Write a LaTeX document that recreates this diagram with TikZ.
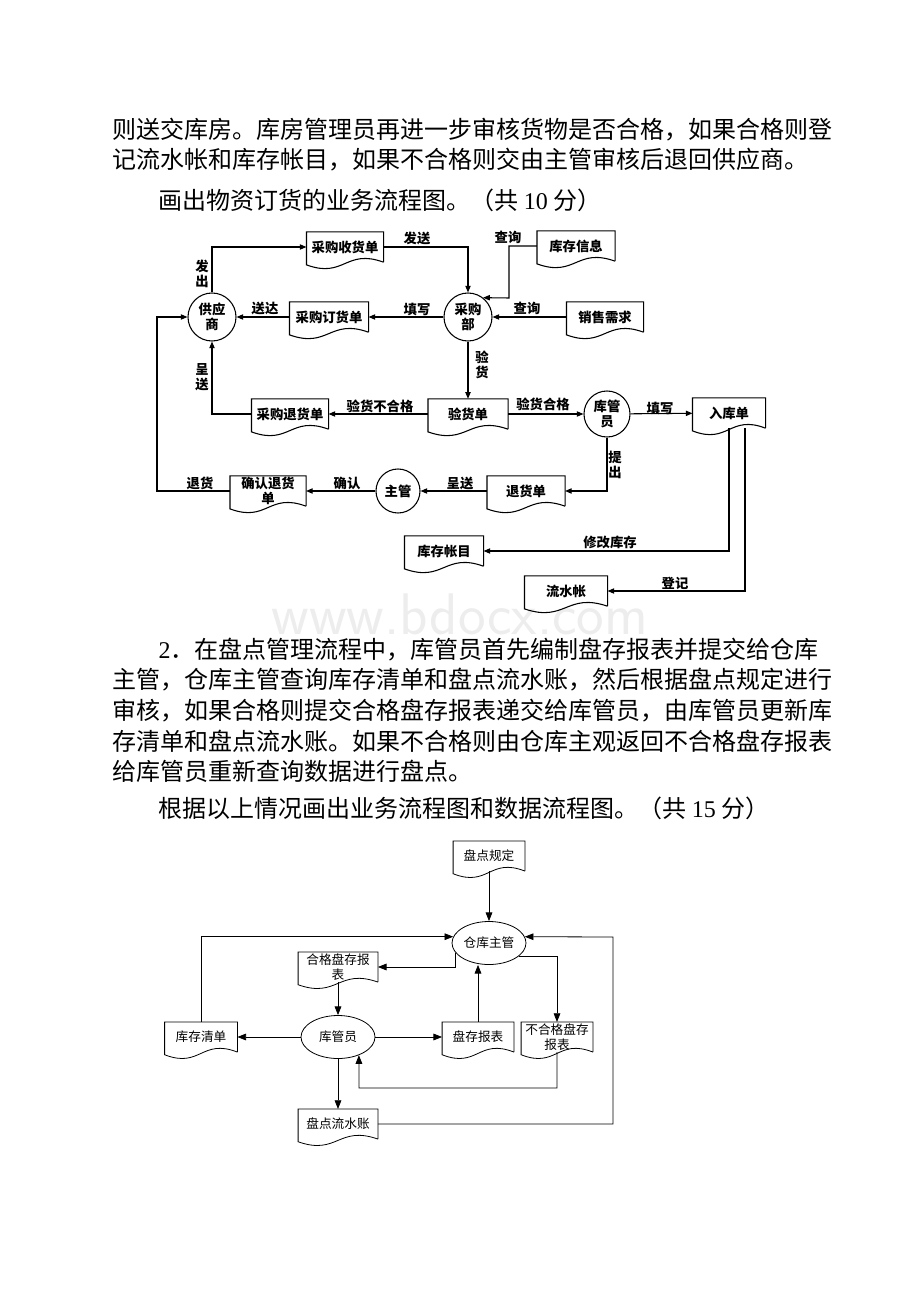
\documentclass[tikz,border=0pt]{standalone}
\usepackage{fontspec}
\setmainfont{Liberation Serif}
\newfontfamily\cjk{Noto Sans CJK SC}
\usetikzlibrary{arrows.meta,shapes.geometric}

\begin{document}
\begin{tikzpicture}[x=0.75pt,y=-0.75pt,line width=0.8pt]
% STYLES
\tikzset{%
    txt/.style={font=\cjk\fontsize{18}{20}\selectfont,anchor=west,inner sep=0pt},
    lab/.style={font=\cjk\bfseries\fontsize{10}{11.5}\selectfont,inner sep=0pt,align=center},
    lab2/.style={font=\cjk\fontsize{9.5}{11}\selectfont,inner sep=0pt,align=center},
    proc/.style={circle,draw,minimum size=#1*0.75pt,inner sep=0pt,align=center,
        font=\cjk\bfseries\fontsize{10}{11.5}\selectfont},
    role/.style={ellipse,draw,minimum width=74*0.75pt,minimum height=43*0.75pt,inner sep=0pt,
        font=\cjk\fontsize{9.5}{11}\selectfont},
    docu/.style={minimum width=#1*0.75pt,minimum height=22pt,
        append after command={\pgfextra{\draw (\tikzlastnode.south east) -- (\tikzlastnode.north east)
        -- (\tikzlastnode.north west) -- ([yshift=-2pt]\tikzlastnode.south west)
        .. controls +(#1/2,14) and +(-#1/2,-14) .. (\tikzlastnode.south east);}}},
    arr/.style={-{Triangle[length=5pt,width=4pt]}},
    arr2/.style={-{Triangle[length=6.5pt,width=5pt]}}
}
\useasboundingbox (0,0) rectangle (920,1302);
% Text
\node[txt] (t1) at (112,130) {则送交库房。库房管理员再进一步审核货物是否合格，如果合格则登};
\node[txt] (t2) at (112,160) {记流水帐和库存帐目，如果不合格则交由主管审核后退回供应商。};
\node[txt] (t3) at (158,200) {画出物资订货的业务流程图。（共 {\rmfamily 10} 分）};
\node[text=black!7,font=\sffamily\fontsize{44}{44}\selectfont] (wm) at (460,614) {www.bdocx.com};
\node[txt] (t4) at (158,650) {{\rmfamily 2}．在盘点管理流程中，库管员首先编制盘存报表并提交给仓库};
\node[txt] (t5) at (112,680) {主管，仓库主管查询库存清单和盘点流水账，然后根据盘点规定进行};
\node[txt] (t6) at (112,711) {审核，如果合格则提交合格盘存报表递交给库管员，由库管员更新库};
\node[txt] (t7) at (112,741) {存清单和盘点流水账。如果不合格则由仓库主观返回不合格盘存报表};
\node[txt] (t8) at (112,771) {给库管员重新查询数据进行盘点。};
\node[txt] (t9) at (158,808) {根据以上情况画出业务流程图和数据流程图。（共 {\rmfamily 15} 分）};

% Draw order flow
\node[proc=48] (gys) at (212,317) {供应\\商};
\node[proc=48] (cgb) at (468,317) {采购\\部};
\node[proc=46] (kgy) at (607,414) {库管\\员};
\node[proc=44] (zg) at (398,491) {主管};
\node[docu=76,lab] (shd) at (345,247) {采购收货单};
\node[docu=78,lab] (dhd) at (329,317) {采购订货单};
\node[docu=77,lab] (kcxx) at (576,246) {库存信息};
\node[docu=76,lab] (xsxq) at (605,317) {销售需求};
\node[docu=79,lab] (yhd) at (468,414) {验货单};
\node[docu=76,lab] (cthd) at (290,414) {采购退货单};
\node[docu=72,lab] (rkd) at (729,413) {入库单};
\node[docu=77,lab] (thd) at (526,491) {退货单};
\node[docu=75,lab] (qrthd) at (268,491) {确认退货\\单};
\node[docu=78,lab] (kczm) at (444,551) {库存帐目};
\node[docu=82,lab] (lsz) at (566,591) {流水帐};
\coordinate (cxbend) at (509,298);
\coordinate (thbend) at (157,317);
% Draw the links
\draw[arr] (gys) |- (shd);
\draw[arr] (shd) -| (cgb);
\draw[arr] (kcxx) -| (cxbend) -- (cgb.52);
\draw[arr] (xsxq) -- (cgb);
\draw[arr] (cgb) -- (dhd);
\draw[arr] (dhd) -- (gys);
\draw[arr] (cgb) -- (yhd);
\draw[arr] (yhd) -- (cthd);
\draw[arr] (cthd) -| (gys);
\draw[arr] (yhd) -- (kgy);
\draw[arr] (kgy) -- (rkd);
\draw[arr] (kgy) |- (thd);
\draw[arr] (thd) -- (zg);
\draw[arr] (zg) -- (qrthd);
\draw[arr] (qrthd) -| (thbend) -- (gys);
\draw[arr] (rkd.south) |- (kczm);
\draw[arr] ([xshift=12pt]rkd.south) |- (lsz);
% Labels
\node[lab] (l1) at (417,238) {发送};
\node[lab] (l2) at (202,274) {发\\出};
\node[lab] (l3) at (265,308) {送达};
\node[lab] (l4) at (417,309) {填写};
\node[lab] (l5) at (508,237) {查询};
\node[lab] (l6) at (527,308) {查询};
\node[lab] (l7) at (482,365) {验\\货};
\node[lab] (l8) at (202,377) {呈\\送};
\node[lab] (l9) at (380,406) {验货不合格};
\node[lab] (l10) at (543,404) {验货合格};
\node[lab] (l11) at (660,408) {填写};
\node[lab] (l12) at (615,465) {提\\出};
\node[lab] (l13) at (200,483) {退货};
\node[lab] (l14) at (347,483) {确认};
\node[lab] (l15) at (460,483) {呈送};
\node[lab] (l16) at (610,542) {修改库存};
\node[lab] (l17) at (675,583) {登记};

% Draw stocktaking flow
\begin{scope}[line width=0.6pt]
\node[role] (ckzg) at (489,943) {仓库主管};
\node[role] (kgy2) at (338,1037) {库管员};
\node[docu=71,lab2] (pdgd) at (489,856) {盘点规定};
\node[docu=79,lab2] (hgbb) at (338,967) {合格盘存报\\表};
\node[docu=72,lab2] (kcqd) at (201,1037) {库存清单};
\node[docu=71,lab2] (pcbb) at (478,1037) {盘存报表};
\node[docu=71,lab2] (bhgbb) at (557,1037) {不合格盘存\\报表};
\node[docu=79,lab2] (pdlsz) at (338,1124) {盘点流水账};
\coordinate (backbend) at (359,1088);
\coordinate (rightbend) at (613,937);
\draw[arr2] (pdgd) -- (ckzg);
\draw[arr2] (kcqd) |- (ckzg.170);
\draw[arr2] (ckzg.196) |- (hgbb);
\draw[arr2] (hgbb) -- (kgy2);
\draw[arr2] (kgy2) -- (kcqd);
\draw[arr2] (kgy2) -- (pcbb);
\draw[arr2] (kgy2) -- (pdlsz);
\draw[arr2] (pcbb) -- (pcbb |- ckzg.south);
\draw[arr2] (ckzg.-24) -| (bhgbb);
\draw[arr2] (bhgbb) |- (backbend) -- (kgy2.-41);
\draw[arr2] (pdlsz) -| (rightbend) -- (ckzg.10);
\end{scope}
\end{tikzpicture}
\end{document}
